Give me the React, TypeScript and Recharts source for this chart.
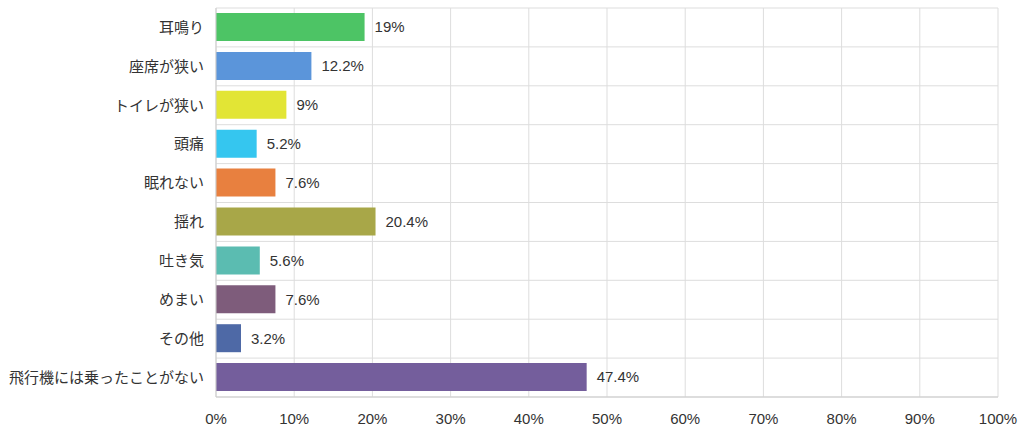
import { BarChart, Bar, XAxis, YAxis, CartesianGrid, LabelList, Cell } from 'recharts';

const categories = [
  '耳鳴り',
  '座席が狭い',
  'トイレが狭い',
  '頭痛',
  '眠れない',
  '揺れ',
  '吐き気',
  'めまい',
  'その他',
  '飛行機には乗ったことがない',
];
const values = [19, 12.2, 9, 5.2, 7.6, 20.4, 5.6, 7.6, 3.2, 47.4];
const xTicks = [0, 10, 20, 30, 40, 50, 60, 70, 80, 90, 100];

const barColors = [
  '#4dc465',
  '#5b95da',
  '#e2e535',
  '#35c6ef',
  '#e8803f',
  '#a8a748',
  '#5bbcb1',
  '#7e5c7b',
  '#4e69a6',
  '#745e9c',
];

const data = categories.map((name, i) => ({ name, value: values[i] }));

const FONT = '"Liberation Sans", "Noto Sans CJK JP", sans-serif';
const MARGIN = { top: 8, right: 26, bottom: 5, left: 0 };
const X_AXIS_H = 30;
const W = 1024;
const H = 432;

export default function App() {
  // grid lines sit on the category boundaries, not on the band centres
  const rowLines = (props: any) => {
    const top = props?.offset?.top ?? MARGIN.top;
    const h = props?.offset?.height ?? H - MARGIN.top - MARGIN.bottom - X_AXIS_H;
    return categories.map((_, i) => top + (i * h) / categories.length).concat(top + h);
  };

  return (
    <div style={{ position: 'absolute', left: 0, top: 0, fontFamily: FONT }}>
      <BarChart width={W} height={H} data={data} layout="vertical" margin={MARGIN}>
        <CartesianGrid stroke="#dddddd" horizontalCoordinatesGenerator={rowLines} />
        <XAxis
          type="number"
          domain={[0, 100]}
          ticks={xTicks}
          height={X_AXIS_H}
          tickFormatter={(v) => `${v}%`}
          axisLine={{ stroke: '#cccccc' }}
          tickLine={false}
          tickSize={0}
          tickMargin={16}
          tick={{ fill: '#333333', fontSize: 15, fontFamily: FONT }}
          interval={0}
        />
        <YAxis
          type="category"
          dataKey="name"
          width={216}
          axisLine={{ stroke: '#cccccc' }}
          tickLine={false}
          tickSize={0}
          tickMargin={12}
          tick={{ fill: '#333333', fontSize: 15, fontFamily: FONT }}
          interval={0}
        />
        <Bar dataKey="value" barSize={28} isAnimationActive={false}>
          {data.map((d, i) => (
            <Cell key={d.name} fill={barColors[i]} />
          ))}
          <LabelList
            dataKey="value"
            position="right"
            offset={10}
            formatter={(v: any) => `${v}%`}
            style={{ fill: '#333333', fontSize: 15, fontFamily: FONT }}
          />
        </Bar>
      </BarChart>
    </div>
  );
}
